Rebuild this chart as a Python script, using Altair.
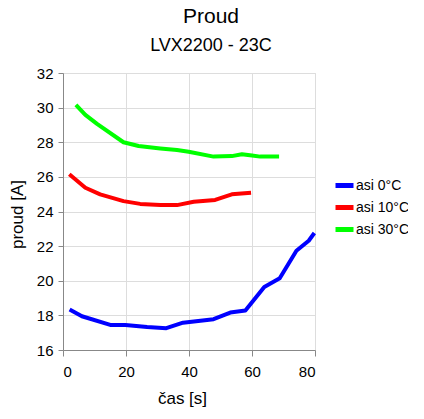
import altair as alt
import pandas as pd

series_names = ["asi 0°C", "asi 10°C", "asi 30°C"]
colors = ["#0000ff", "#ff0000", "#00ff00"]

x0 = [2.1, 6.0, 15.0, 19.8, 26.7, 32.8, 38.1, 47.8, 53.1, 57.9, 63.9, 68.8, 74.1, 78.0, 79.8]
y0 = [18.34, 17.95, 17.45, 17.45, 17.33, 17.26, 17.58, 17.78, 18.16, 18.28, 19.64, 20.14, 21.73, 22.31, 22.76]

x10 = [2.0, 7.1, 11.8, 19.2, 24.5, 30.9, 36.2, 41.5, 48.3, 53.6, 59.7]
y10 = [26.15, 25.37, 24.99, 24.6, 24.44, 24.37, 24.37, 24.56, 24.67, 24.99, 25.08]

x30 = [4.1, 7.1, 10.8, 19.2, 24.0, 30.9, 36.2, 39.9, 47.8, 53.6, 56.8, 60.0, 62.6, 68.6]
y30 = [30.16, 29.58, 29.06, 28.0, 27.78, 27.64, 27.55, 27.45, 27.17, 27.2, 27.31, 27.23, 27.17, 27.17]

x_ticks = [0, 20, 40, 60, 80]
y_ticks = [16, 18, 20, 22, 24, 26, 28, 30, 32]

rows = []
for name, xs, ys in zip(series_names, [x0, x10, x30], [y0, y10, y30]):
    for i, (a, b) in enumerate(zip(xs, ys)):
        rows.append({"series": name, "t": a, "I": b, "order": i})
df = pd.DataFrame(rows)

FONT = "Liberation Sans"

chart = alt.Chart(df).mark_line(strokeWidth=4, strokeJoin="round", strokeCap="butt").encode(
    x=alt.X("t:Q", title="čas [s]",
            scale=alt.Scale(domain=[0, 80], nice=False, zero=False),
            axis=alt.Axis(values=x_ticks, tickSize=6, labelPadding=8, titlePadding=11,
                          labelFontSize=15, titleFontSize=17, titleFontWeight="normal",
                          titleX=119, titleAnchor="middle")),
    y=alt.Y("I:Q", title="proud [A]",
            scale=alt.Scale(domain=[16, 32], nice=False, zero=False),
            axis=alt.Axis(values=y_ticks, tickSize=5, labelPadding=5, titlePadding=10,
                          labelFontSize=15, titleFontSize=17, titleFontWeight="normal",
                          titleY=141)),
    color=alt.Color("series:N", sort=series_names,
                    scale=alt.Scale(domain=series_names, range=colors),
                    legend=alt.Legend(title=None, orient="none", legendX=270, legendY=101,
                                      symbolType="stroke", symbolStrokeWidth=5, symbolSize=324,
                                      labelFontSize=14, labelOffset=0, rowPadding=0,
                                      labelFont=FONT)),
    order="order:Q",
).properties(
    width=252,
    height=277,
    title=alt.TitleParams("Proud", subtitle="LVX2200 - 23C", anchor="middle", dx=22,
                          fontSize=21, fontWeight="normal", subtitleFontSize=18,
                          subtitlePadding=10, offset=11, font=FONT, subtitleFont=FONT,
                          color="#000000", subtitleColor="#000000"),
    autosize=alt.AutoSizeParams(type="none"),
    padding={"left": 55, "top": 65, "right": 93, "bottom": 62},
).configure_axis(
    grid=True, gridColor="#b3b3b3", gridWidth=1, domainColor="#b3b3b3",
    tickColor="#b3b3b3", labelColor="#000000", titleColor="#000000",
    labelFont=FONT, titleFont=FONT,
).configure_view(stroke="#b3b3b3").configure(background="white")

chart.save("out.html", embed_options={"renderer": "svg", "actions": False})
